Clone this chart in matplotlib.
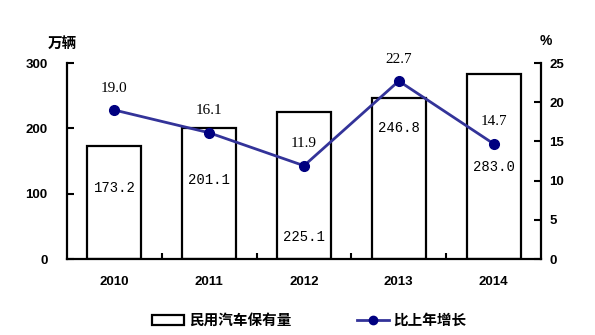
import matplotlib
matplotlib.use("Agg")
import matplotlib.pyplot as plt
from matplotlib.patches import Rectangle
from matplotlib.lines import Line2D

years = ["2010", "2011", "2012", "2013", "2014"]
vehicles = [173.2, 201.1, 225.1, 246.8, 283.0]      # 万辆
growth = [19.0, 16.1, 11.9, 22.7, 14.7]             # %
bar_label_y = [108, 121, 34, 200, 141]              # where the in-bar labels sit

plt.rcParams["font.family"] = ["Liberation Sans", "Noto Sans CJK SC"]
cjk = ["Noto Sans CJK SC", "DejaVu Sans"]

fig = plt.figure(figsize=(5.95, 3.35), dpi=100)
ax = fig.add_axes([67 / 595, 1 - 259 / 335, 474 / 595, 196 / 335])
x = list(range(len(years)))

ax.bar(x, vehicles, width=0.57, color="white", edgecolor="black", linewidth=1.6, zorder=2)
ax.set_xlim(-0.5, 4.5)
ax.set_ylim(0, 300)
ax.set_yticks([0, 100, 200, 300])
ax.set_xticks(x)
ax.set_xticklabels(years)
ax.set_xticks([0.5, 1.5, 2.5, 3.5], minor=True)
ax.tick_params(axis="x", which="major", length=0, pad=12)
ax.tick_params(axis="x", which="minor", direction="in", length=4, width=1.5)
ax.tick_params(axis="y", direction="in", length=5, width=1.5, pad=14)
for lab in ax.get_xticklabels() + ax.get_yticklabels():
    lab.set_fontweight("bold")
    lab.set_fontsize(9.5)
ax.spines["top"].set_visible(False)
ax.spines["right"].set_visible(False)
for s in ("left", "bottom"):
    ax.spines[s].set_linewidth(1.6)

for xi, v, ly in zip(x, vehicles, bar_label_y):
    ax.text(xi, ly, f"{v:.1f}", ha="center", va="center", fontsize=10,
            family="Liberation Mono", zorder=5)

ax2 = ax.twinx()
ax2.plot(x, growth, color="#333399", linewidth=2, marker="o", markersize=7,
         markerfacecolor="#000080", markeredgecolor="#000080", zorder=4)
ax2.set_ylim(0, 25)
ax2.set_yticks([0, 5, 10, 15, 20, 25])
ax2.tick_params(axis="y", direction="in", length=5, width=1.5, pad=6)
for lab in ax2.get_yticklabels():
    lab.set_fontweight("bold")
    lab.set_fontsize(9.5)
for s in ("top", "left", "bottom"):
    ax2.spines[s].set_visible(False)
ax2.spines["right"].set_linewidth(1.6)
for xi, g in zip(x, growth):
    ax2.annotate(f"{g:.1f}", (xi, g), xytext=(0, 11), textcoords="offset points",
                 ha="center", va="bottom", fontsize=11, family="Liberation Serif")

fig.text(62 / 595, 1 - 43 / 335, "万辆", ha="center", va="center",
         fontsize=10.5, fontweight="bold", family=cjk)
fig.text(546 / 595, 1 - 41 / 335, "%", ha="center", va="center",
         fontsize=10, fontweight="bold")

handles = [Rectangle((0, 0), 1, 1, facecolor="white", edgecolor="black", linewidth=1.6),
           Line2D([], [], color="#333399", linewidth=2, marker="o", markersize=6,
                  markerfacecolor="#000080", markeredgecolor="#000080")]
fig.legend(handles, ["民用汽车保有量", "比上年增长"], loc="center",
           bbox_to_anchor=(0.52, 1 - 320 / 335), ncol=2, frameon=False,
           columnspacing=4.5, handlelength=2.2, handletextpad=0.3,
           prop={"family": cjk, "size": 10.5, "weight": "bold"})

fig.savefig("out.png", dpi=100)
